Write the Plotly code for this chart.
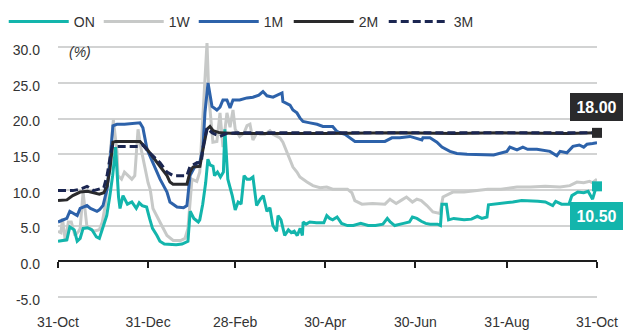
import pandas as pd
import plotly.graph_objects as go

START = pd.Timestamp("2022-10-31")
END = pd.Timestamp("2023-10-31")

tick_dates = ["2022-10-31", "2022-12-31", "2023-02-28", "2023-04-30", "2023-06-30", "2023-08-31", "2023-10-31"]
tick_labels = ["31-Oct", "31-Dec", "28-Feb", "30-Apr", "30-Jun", "31-Aug", "31-Oct"]
y_ticks = [-5, 0, 5, 10, 15, 20, 25, 30]

# day offsets from 31-Oct and values (%)
on_days = [0, 3, 6, 8, 11, 13, 15, 17, 20, 23, 26, 28, 31, 33, 35, 37, 39, 40, 41, 42, 44, 47, 50, 53, 55, 57, 60, 62, 64, 67, 69, 72, 76, 80, 84, 88, 89.5, 92, 95, 96, 98, 100, 101.5, 103, 105, 106, 108, 110, 112, 113, 115, 117, 118, 120, 122, 124, 126, 128, 130, 132, 134.5, 137, 139, 141.5, 143.5, 145.5, 148, 149, 151, 153.5, 156, 158, 160, 162, 164, 165.5, 166, 168, 170.5, 175, 180, 182, 184, 186, 189, 192, 196, 200, 205, 210, 215, 220, 223, 225, 228, 234, 238, 240, 243, 246, 249, 252, 257, 259, 260, 263, 264.5, 268, 275, 280, 284, 287, 290.5, 291.5, 296, 302, 308, 314, 320, 325, 330, 335, 337, 341, 346, 348, 352, 356, 359, 362, 364, 365]
on_vals = [2.8, 2.9, 3.0, 4.8, 4.4, 2.8, 3.2, 4.6, 4.7, 4.4, 3.4, 3.2, 5.0, 6.4, 9.0, 12.0, 16.0, 12.0, 9.0, 7.4, 9.2, 8.0, 8.3, 7.4, 8.2, 7.8, 7.6, 6.0, 4.6, 3.6, 2.8, 2.4, 2.3, 2.3, 2.4, 2.8, 7.0, 6.0, 5.5, 5.8, 8.0, 11.0, 14.3, 13.5, 13.3, 12.0, 12.5, 11.8, 12.5, 18.5, 11.5, 10.0, 9.2, 7.2, 8.3, 8.0, 12.0, 11.5, 11.5, 11.8, 7.8, 8.7, 9.2, 7.0, 7.5, 5.0, 4.2, 6.4, 5.8, 3.6, 4.4, 4.0, 4.2, 3.6, 4.6, 3.6, 5.5, 5.2, 5.5, 5.4, 5.4, 6.4, 6.0, 5.8, 6.2, 5.3, 5.0, 5.0, 5.3, 5.0, 5.0, 5.2, 6.0, 5.5, 5.0, 5.3, 5.5, 6.2, 6.0, 5.6, 5.3, 5.2, 5.2, 5.0, 8.0, 8.0, 5.8, 6.0, 5.8, 5.9, 6.3, 6.0, 6.2, 7.9, 8.0, 8.1, 8.3, 8.5, 8.5, 8.4, 8.3, 7.8, 8.4, 8.0, 8.0, 9.2, 9.7, 9.6, 9.8, 8.7, 10.1, 10.5]

w1_days = [0, 2, 3, 5, 7, 9, 11.5, 14, 15, 17, 19.5, 22, 24, 28, 30, 32, 34, 36.5, 37.5, 38.5, 40, 40.6, 43, 45, 47.5, 50, 52, 53.5, 54.2, 56, 58.9, 61, 62.5, 64.3, 69, 73.8, 78, 83, 86, 88, 90.7, 94, 96, 98.2, 100.9, 102.2, 104.9, 107.6, 109.7, 111.7, 114.4, 116.5, 118.5, 120, 123, 126, 128, 130, 132, 134.7, 137, 140, 143.5, 145.6, 150.3, 152.3, 155, 157.1, 159.1, 161.8, 163.8, 168.6, 172.6, 177.4, 182, 186, 190, 196, 199, 201, 205.8, 213, 221.4, 224.8, 226, 229, 232.9, 236, 240, 243, 246, 249.8, 253.9, 258.6, 260.7, 264, 267.4, 275, 285.7, 291, 300, 310.8, 320, 330, 340, 346.6, 351.4, 356, 360, 362, 365]
w1_vals = [4.2, 4.0, 6.0, 2.8, 5.5, 5.5, 3.6, 4.2, 4.6, 9.7, 5.0, 4.6, 4.2, 4.4, 5.5, 7.8, 12.0, 16.7, 19.8, 18.0, 15.3, 12.0, 11.5, 12.5, 12.0, 11.5, 12.0, 17.0, 18.5, 16.0, 13.0, 11.0, 10.0, 7.4, 5.5, 3.6, 2.9, 2.9, 3.2, 4.6, 11.5, 11.2, 12.5, 20.8, 30.6, 23.0, 16.7, 16.8, 20.8, 16.0, 20.8, 18.8, 21.2, 18.5, 17.5, 18.0, 19.0, 19.2, 17.0, 18.0, 17.8, 17.8, 18.3, 17.8, 17.3, 16.7, 15.3, 14.0, 13.2, 12.5, 11.8, 11.1, 10.6, 10.3, 10.4, 10.1, 10.1, 10.1, 9.6, 8.5, 8.0, 8.1, 8.0, 8.7, 8.5, 8.1, 8.6, 9.0, 8.3, 8.7, 8.5, 7.8, 6.9, 6.7, 9.0, 9.4, 9.7, 9.7, 9.9, 10.1, 10.1, 10.4, 10.4, 10.5, 10.4, 10.6, 11.1, 11.0, 11.2, 11.0, 11.5]

m1_days = [0, 6, 8, 13, 15, 19.6, 22, 26.4, 28, 30.5, 33.2, 35.2, 37.2, 39.9, 45, 50, 55.5, 57.5, 60.3, 64.3, 69.1, 73.8, 75.8, 80.6, 85, 87.3, 89.4, 94.1, 96.1, 98.2, 99.5, 101.6, 104.3, 107.6, 109.7, 111.7, 114.4, 116.5, 118.5, 123, 128, 132, 136, 138.8, 141.5, 145.6, 149, 151.7, 152.3, 157.1, 159.1, 161.8, 163.8, 165.9, 170.6, 175.4, 179.4, 186, 188.9, 190.9, 194.3, 201.1, 210, 221.4, 226.1, 231.5, 238.3, 246.4, 247.1, 251.9, 256.6, 260, 265.4, 270.1, 277, 285.7, 295, 304, 306, 310.8, 314.8, 318, 324.3, 333.1, 337.8, 340, 344.6, 348.7, 353, 356, 358.2, 362, 365]
m1_vals = [5.5, 6.0, 7.0, 6.4, 7.4, 7.8, 7.4, 7.0, 7.2, 7.8, 10.1, 13.8, 19.0, 19.2, 19.2, 19.3, 19.4, 18.7, 15.7, 13.8, 11.5, 9.7, 8.3, 7.6, 7.5, 7.8, 12.0, 13.8, 13.9, 16.0, 20.8, 25.0, 21.7, 21.2, 21.6, 22.6, 22.6, 21.5, 22.6, 22.6, 22.9, 23.0, 23.3, 23.8, 23.2, 23.0, 23.3, 23.6, 22.4, 21.9, 21.2, 20.8, 20.1, 19.6, 19.4, 19.2, 18.9, 18.9, 18.2, 18.0, 17.8, 16.8, 16.8, 16.8, 17.3, 17.3, 17.5, 17.0, 17.3, 17.3, 16.7, 16.0, 15.4, 15.1, 15.0, 15.0, 14.9, 15.4, 16.0, 15.6, 16.0, 15.7, 15.7, 15.4, 14.8, 15.4, 15.2, 16.1, 16.3, 16.0, 16.4, 16.5, 16.6]

m2_days = [0, 6, 10, 15, 20, 28, 31, 33.2, 35.2, 37.2, 39, 55.5, 60.3, 64.3, 69.1, 73.8, 75.8, 77.9, 87.3, 89.4, 91.4, 96.1, 98.2, 100.9, 102.9, 105, 109.7, 120, 180, 230, 268, 300, 345, 365]
m2_vals = [8.5, 8.6, 9.2, 9.7, 9.8, 9.4, 9.6, 10.5, 13.0, 16.7, 16.8, 16.8, 15.7, 14.6, 13.3, 12.0, 11.1, 10.8, 10.8, 12.5, 13.2, 13.3, 15.7, 18.5, 18.9, 18.3, 18.0, 17.9, 17.9, 18.0, 17.9, 18.0, 17.9, 18.0]

m3_days = [0, 10, 15, 19.6, 24, 28, 31, 33.2, 36.6, 55.5, 57.5, 61.5, 69.1, 73.8, 77.9, 87.3, 89.4, 94.1, 97, 98.2, 100.9, 104.3, 109.7, 114, 120, 365]
m3_vals = [9.9, 9.9, 10.1, 10.5, 9.9, 10.1, 10.3, 12.0, 16.1, 16.1, 16.3, 15.3, 13.8, 12.5, 12.0, 12.0, 13.3, 13.8, 13.8, 16.0, 18.7, 18.0, 17.5, 17.9, 18.0, 18.0]


def to_dates(days):
    return START + pd.to_timedelta(days, unit="D")


C_ON = "#13B5AC"
C_1W = "#C7C9C8"
C_1M = "#2D62AA"
C_2M = "#2A2A2C"
C_3M = "#1B2651"
TXT = "#333333"
FONT = "Liberation Sans Narrow, Arial Narrow, Liberation Sans, sans-serif"

fig = go.Figure()
series = [
    ("1W", w1_days, w1_vals, C_1W, "solid", 2),
    ("ON", on_days, on_vals, C_ON, "solid", 1),
    ("1M", m1_days, m1_vals, C_1M, "solid", 3),
    ("2M", m2_days, m2_vals, C_2M, "solid", 4),
    ("3M", m3_days, m3_vals, C_3M, "8px,4px", 5),
]
for name, d, v, c, dash, rank in series:
    fig.add_trace(go.Scatter(
        x=to_dates(d), y=v, name=name, mode="lines", legendrank=rank,
        line=dict(color=c, width=3, dash=dash),
    ))

# end markers
for d, v, c in [(m2_days, m2_vals, C_2M), (on_days, on_vals, C_ON)]:
    fig.add_trace(go.Scatter(
        x=to_dates(d[-1:]), y=v[-1:], mode="markers", showlegend=False, cliponaxis=False,
        marker=dict(symbol="square", size=10, color=c), hoverinfo="skip",
    ))

# empty trace so the label axis (x2) is rendered
fig.add_trace(go.Scatter(
    x=tick_dates, y=[None] * len(tick_dates), xaxis="x2", mode="lines",
    showlegend=False, hoverinfo="skip",
))

ymin, ymax = -5.3, 30.6
zero_pos = (0 - ymin) / (ymax - ymin)

fig.update_layout(
    width=623, height=332,
    margin=dict(l=58, r=26, t=43, b=33),
    paper_bgcolor="white", plot_bgcolor="white",
    font=dict(family=FONT, size=14, color=TXT),
    showlegend=True,
    legend=dict(
        orientation="h", xref="container", yref="container",
        x=0.006, y=0.982, xanchor="left", yanchor="top",
        itemwidth=60, entrywidth=20, entrywidthmode="pixels",
        font=dict(family=FONT, size=14, color=TXT),
        bgcolor="rgba(0,0,0,0)", traceorder="normal",
    ),
    xaxis=dict(
        type="date", range=[START, END], anchor="free", position=zero_pos,
        showgrid=False, zeroline=False, showline=True, linecolor="#1E1E1E", linewidth=2,
        ticks="outside", ticklen=6, tickwidth=2, tickcolor="#1E1E1E",
        tickvals=tick_dates, showticklabels=False, automargin=False,
    ),
    xaxis2=dict(
        type="date", range=[START, END], overlaying="x", anchor="y", side="bottom",
        showgrid=False, zeroline=False, showline=False, ticks="",
        tickvals=tick_dates, ticktext=tick_labels, ticklabelstandoff=13,
        tickfont=dict(family=FONT, size=14, color=TXT), automargin=False,
    ),
    yaxis=dict(
        range=[ymin, ymax], tickvals=y_ticks, ticktext=[f"{t:.1f}" for t in y_ticks],
        showgrid=True, gridcolor="#D2D3D3", gridwidth=1.5, zeroline=False,
        ticks="", ticklabelstandoff=17, ticklabelshift=3, automargin=False,
        tickfont=dict(family=FONT, size=14, color=TXT),
    ),
)

fig.add_annotation(
    text="<i>(%)</i>", xref="paper", yref="y", x=0.017, y=30, xanchor="left",
    yanchor="middle", yshift=-5, showarrow=False, font=dict(family=FONT, size=14, color=TXT),
)

for d, v, c, shift in [(m2_days, m2_vals, C_2M, 26), (on_days, on_vals, C_ON, -30)]:
    fig.add_annotation(
        text=f"<b>{v[-1]:.2f}</b>", xref="paper", yref="y", x=(623 - 58) / 539, y=v[-1],
        xanchor="right", yanchor="middle", yshift=shift, showarrow=False,
        bgcolor=c, width=51, height=26, borderpad=1, borderwidth=0,
        font=dict(family=FONT, size=16, color="white"),
    )

fig.write_html(
    "out.html",
    config={"displayModeBar": False},
    post_script="document.documentElement.style.margin='0';document.body.style.margin='0';document.body.style.overflow='hidden';",
)
